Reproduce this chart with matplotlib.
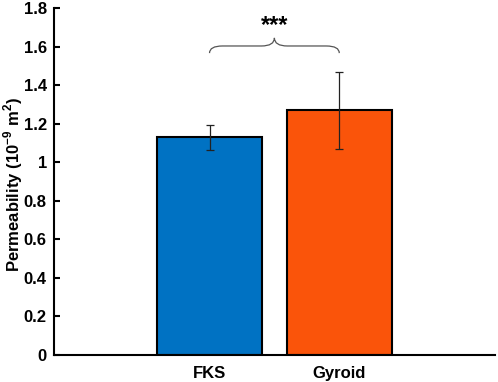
import matplotlib
matplotlib.use('Agg')
import matplotlib.pyplot as plt
from matplotlib.path import Path
from matplotlib.patches import PathPatch

plt.rcParams['font.family'] = ['Liberation Sans', 'DejaVu Sans']
plt.rcParams['mathtext.fontset'] = 'custom'
plt.rcParams['mathtext.bf'] = 'Liberation Sans:bold'
plt.rcParams['mathtext.rm'] = 'Liberation Sans'

# data
groups = ['FKS', 'Gyroid']
perm = [1.13, 1.27]
perm_err = [0.065, 0.20]
colors = ['#0072C3', '#FA540A']
sig_label = '***'

fig = plt.figure(figsize=(4.98, 3.82), dpi=100)
ax = fig.add_axes([0.108, 0.071, 0.886, 0.908])

xpos = [1, 2]
ax.bar(xpos, perm, width=0.81, color=colors, edgecolor='black', linewidth=1.5, zorder=2)
ax.errorbar(xpos, perm, yerr=perm_err, fmt='none', ecolor='#222222', elinewidth=0.9,
            capsize=3, capthick=0.9, zorder=3)

# brace for significance
x0, x1 = xpos
xm = (x0 + x1) / 2
yb, ye, yp = 1.603, 1.566, 1.645
r = 0.1
verts = [(x0, ye), (x0, yb), (x0 + r, yb),
         (xm - r, yb), (xm, yb), (xm, yp),
         (xm, yb), (xm + r, yb),
         (x1 - r, yb), (x1, yb), (x1, ye)]
codes = [Path.MOVETO, Path.CURVE3, Path.CURVE3,
         Path.LINETO, Path.CURVE3, Path.CURVE3,
         Path.CURVE3, Path.CURVE3,
         Path.LINETO, Path.CURVE3, Path.CURVE3]
ax.add_patch(PathPatch(Path(verts, codes), fill=False, edgecolor='#555555', linewidth=0.9))
ax.text(xm, 1.71, sig_label, ha='center', va='center', fontsize=17, fontweight='bold')

ax.set_xlim(-0.2, 3.2)
ax.set_ylim(0, 1.8)
ax.set_xticks(xpos)
ax.set_xticklabels(groups)
ax.set_yticks([0, 0.2, 0.4, 0.6, 0.8, 1, 1.2, 1.4, 1.6, 1.8])
ax.set_yticklabels(['0', '0.2', '0.4', '0.6', '0.8', '1', '1.2', '1.4', '1.6', '1.8'])
ax.tick_params(axis='y', direction='in', length=4, width=1.5, labelsize=12, pad=5)
ax.tick_params(axis='x', length=0, labelsize=12, pad=8)
for lab in ax.get_xticklabels() + ax.get_yticklabels():
    lab.set_fontweight('bold')
ax.spines['top'].set_visible(False)
ax.spines['right'].set_visible(False)
ax.spines['left'].set_linewidth(1.5)
ax.spines['bottom'].set_linewidth(1.5)
ax.set_ylabel('Permeability (10$^{\\mathbf{-9}}$ m$^{\\mathbf{2}}$)', fontsize=12, fontweight='bold')
ax.yaxis.set_label_coords(-0.065, 0.49)

fig.savefig('out.png', dpi=100)
